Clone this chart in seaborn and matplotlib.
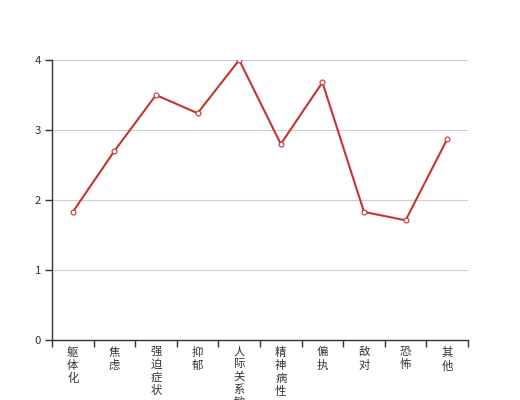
import numpy as np
import pandas as pd
import matplotlib
matplotlib.use('Agg')
import matplotlib.pyplot as plt
import seaborn as sns

# Data
factors = ['躯体化', '焦虑', '强迫症状', '抑郁', '人际关系敏感', '精神病性', '偏执', '敌对', '恐怖', '其他']
scores = [1.83, 2.70, 3.50, 3.24, 4.00, 2.80, 3.68, 1.83, 1.71, 2.87]
y_ticks = [0, 1, 2, 3, 4]

sns.set_style('white')
plt.rcParams['font.family'] = ['Noto Sans CJK SC', 'DejaVu Sans']

df = pd.DataFrame({'factor': factors, 'score': scores})

fig = plt.figure(figsize=(5.2, 4.0), dpi=100)
ax = fig.add_axes([0.1, 0.15, 0.8, 0.7])

sns.lineplot(data=df, x='factor', y='score', ax=ax, color='#c23531', linewidth=1.5,
             marker='o', markersize=3.5, markerfacecolor='white',
             markeredgecolor='#c23531', markeredgewidth=0.8, sort=False)

ax.set_xlim(-0.5, len(factors) - 0.5)
ax.set_ylim(0, 4)
ax.set_yticks(y_ticks)
ax.set_yticklabels([str(v) for v in y_ticks], fontsize=8.2, color='#333333')
ax.yaxis.grid(True, color='#cccccc', linewidth=0.8)
ax.set_axisbelow(True)

# category boundaries as tick marks, labels at centres
ax.set_xticks(np.arange(-0.5, len(factors)), labels=[''] * (len(factors) + 1))
ax.set_xticks(np.arange(len(factors)), minor=True)
ax.set_xticklabels(['\n'.join(f) for f in factors], minor=True, fontsize=8.2,
                   color='#333333', linespacing=1.25, va='top')
ax.tick_params(axis='x', which='major', direction='out', length=5, width=1,
               color='#333333', bottom=True)
ax.tick_params(axis='x', which='minor', length=0, pad=5)
ax.tick_params(axis='y', direction='out', length=5, width=1, color='#333333', left=True, pad=3)

for s in ['top', 'right']:
    ax.spines[s].set_visible(False)
for s in ['left', 'bottom']:
    ax.spines[s].set_color('#333333')
    ax.spines[s].set_linewidth(1)

ax.set_xlabel('')
ax.set_ylabel('')

plt.savefig('out.png', dpi=100)
plt.close()
